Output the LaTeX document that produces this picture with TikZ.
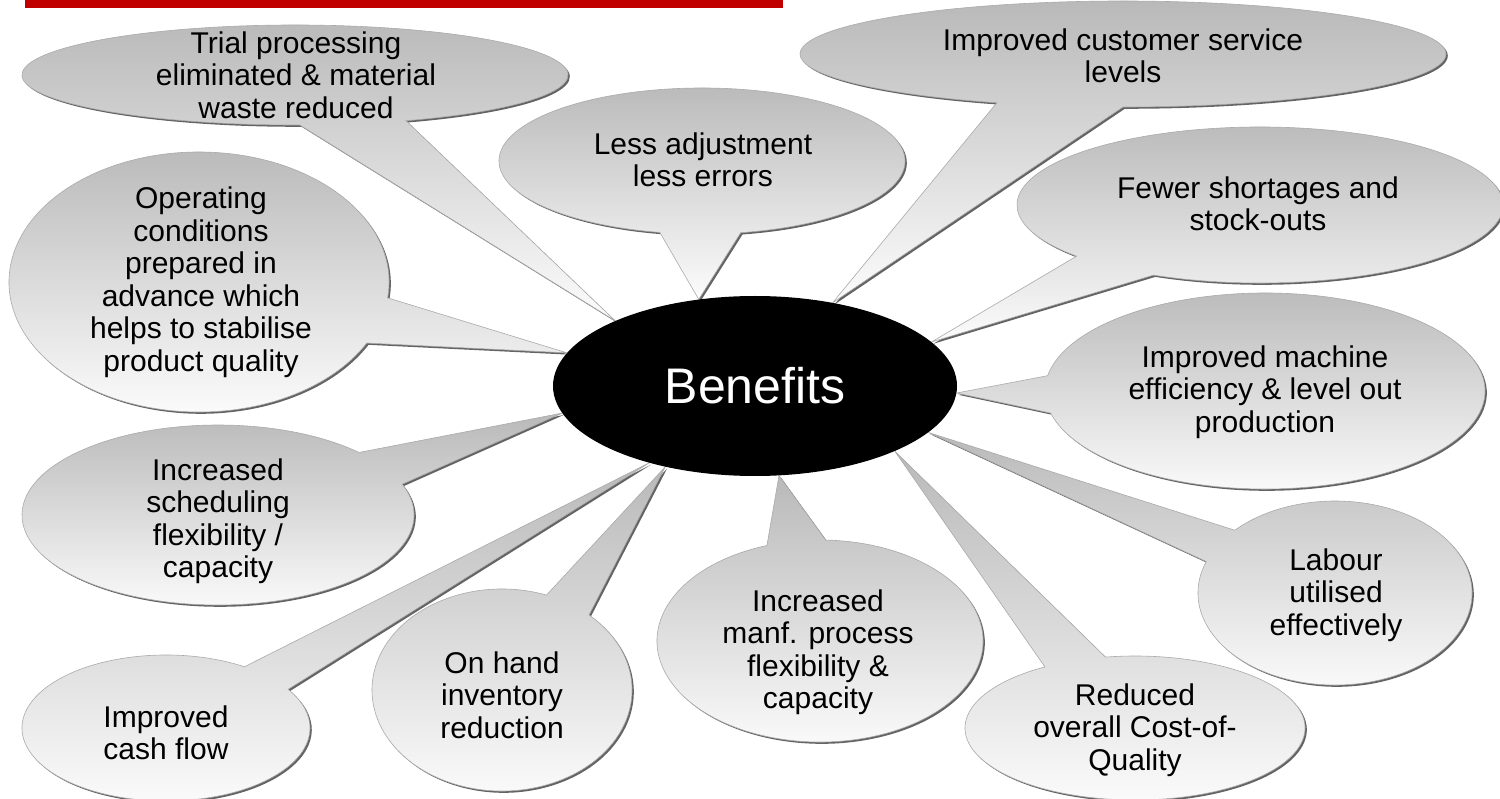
\documentclass[tikz,border=0pt]{standalone}
\usepackage{fontspec}
\setmainfont{Liberation Sans}
\usetikzlibrary{shapes.geometric}
\definecolor{barred}{RGB}{192,0,0}
\definecolor{bubtop}{RGB}{185,185,185}
\definecolor{bubbot}{RGB}{252,252,252}
\definecolor{bubshadow}{RGB}{100,100,100}
\definecolor{bubedge}{RGB}{170,170,170}
\pgfdeclarelayer{fg}
\pgfsetlayers{main,fg}
% path of a callout: tip on the centre ellipse, then round the bubble
\newcommand{\bubpath}[6]{(ben.#4) -- ([shift={(#5:#2pt and #3pt)}]#1) arc[start angle=#5, end angle=#6, x radius=#2pt, y radius=#3pt] -- cycle}
% #1 name, #2 centre, #3 rx, #4 ry, #5 tip angle, #6 start, #7 end, #8 text pos, #9 text
\newcommand{\bubble}[9]{%
  \fill[bubshadow, transform canvas={shift={(1.8pt,-1.8pt)}}] \bubpath{#2}{#3}{#4}{#5}{#6}{#7};
  \path[bubblestyle] \bubpath{#2}{#3}{#4}{#5}{#6}{#7};
  \node[btext] (#1) at (#8) {#9};
}
\begin{document}
\begin{tikzpicture}[x=1pt,y=1pt,
  bubblestyle/.style={top color=bubtop, bottom color=bubbot, draw=bubedge, line width=0.6pt},
  btext/.style={align=center, inner sep=0pt, text=black, font=\fontsize{30}{32.5}\selectfont},
  centre/.style={ellipse, fill=black, minimum width=404pt, minimum height=180pt, inner sep=0pt,
    text=white, font=\fontsize{50}{60}\selectfont}]
\useasboundingbox (0,0) rectangle (1500,-799);
\fill[barred] (25,0) rectangle (783,-8);
\begin{pgfonlayer}{fg}
\node[centre] (ben) at (755,-386) {Benefits};
\end{pgfonlayer}
\bubble{trial}{295,-75}{273}{50}{155}{-66}{271}{296,-75}{Trial processing\\eliminated \& material\\waste reduced}
\bubble{less}{702,-161}{203}{73}{123}{-79}{258}{703,-160}{Less adjustment\\less errors}
\bubble{cust}{1123,-54}{323}{53}{47}{-90}{247}{1123,-56}{Improved customer service\\levels}
\bubble{short}{1260,-205}{243}{78}{14}{-116}{221}{1258,-204}{Fewer shortages and\\stock-outs}
\bubble{mach}{1265,-391}{220}{98}{-2}{-167}{171}{1265,-392}{Improved machine\\efficiency \& level out\\production}
\bubble{lab}{1335,-593}{137}{92}{-15}{160}{497}{1336,-595}{Labour\\utilised\\effectively}
\bubble{cost}{1135,-728}{170}{72}{-25}{122}{460}{1135,-730}{Reduced\\overall Cost-of-\\Quality}
\bubble{manf}{820,-641}{163}{101}{-75}{109}{448}{818,-652}{Increased\\manf. process\\flexibility \&\\capacity}
\bubble{hand}{502,-690}{130}{101}{-138}{70}{408}{502,-695}{On hand\\inventory\\reduction}
\bubble{cash}{166,-728}{144}{73}{-144}{57}{392}{166,-733}{Improved\\cash flow}
\bubble{sched}{218,-515}{196}{90}{-172}{44}{380}{218,-521}{Increased\\scheduling\\flexibility /\\capacity}
\bubble{oper}{199,-282}{190}{130}{170}{-7}{332}{201,-282}{Operating\\conditions\\prepared in\\advance which\\helps to stabilise\\product quality}
\end{tikzpicture}
\end{document}
